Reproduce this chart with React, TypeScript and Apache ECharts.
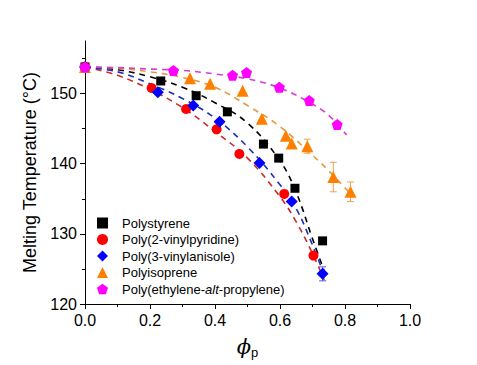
import React, { useEffect, useRef } from "react";
import * as echarts from "echarts";

// Measured points (phi_p, Tm)
const phiPS = [0, 0.233, 0.342, 0.438, 0.549, 0.596, 0.646, 0.731];
const tmPS = [153.8, 151.8, 149.7, 147.4, 142.8, 140.8, 136.5, 129.0];
const phiP2VP = [0, 0.205, 0.311, 0.405, 0.475, 0.613, 0.703];
const tmP2VP = [153.8, 150.8, 147.8, 144.9, 141.4, 135.7, 126.9];
const phiP3VA = [0, 0.224, 0.333, 0.414, 0.537, 0.636, 0.731];
const tmP3VA = [153.8, 150.2, 148.3, 146.0, 140.1, 134.6, 124.3];
const errP3VA = [0, 0, 0, 0, 0, 0, 1.0];
const phiPI = [0, 0.323, 0.385, 0.485, 0.544, 0.618, 0.636, 0.684, 0.764, 0.817];
const tmPI = [153.8, 152.2, 151.4, 150.4, 146.4, 144.0, 142.9, 142.5, 138.1, 136.0];
const errPI = [0, 0, 0, 0, 0, 0, 0, 1.0, 2.1, 1.4];
const phiPEP = [0, 0.272, 0.454, 0.497, 0.598, 0.69, 0.776];
const tmPEP = [153.8, 153.3, 152.6, 153.0, 150.9, 149.0, 145.6];

// Dashed fit curves
const fitPhiPS = [0, 0.1, 0.2, 0.3, 0.4, 0.5, 0.6, 0.65, 0.7, 0.744];
const fitTmPS = [153.8, 153.4, 152.4, 150.9, 148.7, 145.8, 140.4, 135.9, 129.3, 123.7];
const fitPhiP2VP = [0, 0.1, 0.2, 0.3, 0.4, 0.5, 0.6, 0.65, 0.7, 0.736];
const fitTmP2VP = [153.8, 152.6, 150.6, 148.0, 144.6, 140.8, 135.3, 131.7, 127.2, 123.4];
const fitPhiP3VA = [0, 0.1, 0.2, 0.3, 0.4, 0.5, 0.6, 0.65, 0.7, 0.742];
const fitTmP3VA = [153.8, 153.1, 151.4, 149.3, 146.5, 142.4, 137.0, 133.6, 128.4, 123.4];
const fitPhiPI = [0, 0.1, 0.2, 0.3, 0.4, 0.5, 0.6, 0.7, 0.75, 0.817];
const fitTmPI = [153.8, 153.6, 153.1, 152.3, 150.9, 148.3, 145.3, 141.2, 139.0, 135.7];
const fitPhiPEP = [0, 0.1, 0.2, 0.3, 0.4, 0.5, 0.6, 0.7, 0.75, 0.805];
const fitTmPEP = [153.8, 153.7, 153.5, 153.3, 152.8, 152.1, 150.8, 148.5, 146.9, 144.1];

const seriesNames = [
  "Polystyrene",
  "Poly(2-vinylpyridine)",
  "Poly(3-vinylanisole)",
  "Polyisoprene",
  "Poly(ethylene-alt-propylene)",
];
const yMajorTicks = [120, 130, 140, 150];
const yMinorTicks = [125, 135, 145, 155];

const PENTAGON =
  "path://M0,-1L0.951,-0.309L0.588,0.809L-0.588,0.809L-0.951,-0.309Z";

const zip = (a: number[], b: number[]) => a.map((v, i) => [v, b[i]]);

export default function App() {
  const ref = useRef<HTMLDivElement>(null);
  useEffect(() => {
    if (!ref.current) return;
    const chart = echarts.init(ref.current, null, { renderer: "svg" });
    const font = "Liberation Sans, Arial, sans-serif";
    const pts = [
      { x: phiPS, y: tmPS, color: "#000000", symbol: "rect", size: 9 },
      { x: phiP2VP, y: tmP2VP, color: "#ff0000", symbol: "circle", size: 10 },
      { x: phiP3VA, y: tmP3VA, color: "#0000ff", symbol: "diamond", size: 12 },
      { x: phiPI, y: tmPI, color: "#ff8000", symbol: "triangle", size: 12 },
      { x: phiPEP, y: tmPEP, color: "#ff00ff", symbol: PENTAGON, size: 11 },
    ];
    const fits = [
      { x: fitPhiPS, y: fitTmPS, color: "#000000" },
      { x: fitPhiP2VP, y: fitTmP2VP, color: "#cc2a2a" },
      { x: fitPhiP3VA, y: fitTmP3VA, color: "#1c2fb8" },
      { x: fitPhiPI, y: fitTmPI, color: "#e0993f" },
      { x: fitPhiPEP, y: fitTmPEP, color: "#d23cd2" },
    ];
    const errs = [
      { x: phiP3VA, y: tmP3VA, e: errP3VA, color: "#5060e0" },
      { x: phiPI, y: tmPI, e: errPI, color: "#f0a050" },
    ];
    const series: any[] = [];
    fits.forEach((f, i) => {
      series.push({
        name: "fit" + i,
        type: "line",
        data: zip(f.x, f.y),
        smooth: 0.4,
        showSymbol: false,
        symbol: "none",
        silent: true,
        z: 1,
        lineStyle: { color: f.color, width: 1.6, type: [6, 5] },
      });
    });
    errs.forEach((er, k) => {
      const data = er.x
        .map((x, i) => [x, er.y[i] - er.e[i], er.y[i] + er.e[i]])
        .filter((_, i) => er.e[i] > 0);
      series.push({
        name: "err" + k,
        type: "custom",
        silent: true,
        z: 2,
        data,
        renderItem: (_p: any, api: any) => {
          const lo = api.coord([api.value(0), api.value(1)]);
          const hi = api.coord([api.value(0), api.value(2)]);
          const w = 3.5;
          const st = { stroke: er.color, lineWidth: 1 };
          return {
            type: "group",
            children: [
              { type: "line", shape: { x1: lo[0], y1: lo[1], x2: hi[0], y2: hi[1] }, style: st },
              { type: "line", shape: { x1: lo[0] - w, y1: lo[1], x2: lo[0] + w, y2: lo[1] }, style: st },
              { type: "line", shape: { x1: hi[0] - w, y1: hi[1], x2: hi[0] + w, y2: hi[1] }, style: st },
            ],
          };
        },
      });
    });
    pts.forEach((p, i) => {
      series.push({
        name: seriesNames[i],
        type: "scatter",
        data: zip(p.x, p.y),
        symbol: p.symbol,
        symbolSize: p.size,
        itemStyle: { color: p.color, opacity: 1 },
        z: 3,
      });
    });
    chart.setOption({
      animation: false,
      backgroundColor: "#ffffff",
      grid: { left: 85, right: 67, top: 41, bottom: 61 },
      legend: {
        data: seriesNames,
        orient: "vertical",
        left: 97,
        top: 216,
        padding: 0,
        itemWidth: 11,
        itemHeight: 11,
        itemGap: 2.5,
        textStyle: {
          fontFamily: font,
          fontSize: 13,
          color: "#000",
          lineHeight: 14,
          padding: [0, 0, 0, 9],
          rich: { i: { fontStyle: "italic", fontSize: 13, fontFamily: font, color: "#000" } },
        },
        formatter: (n: string) =>
          n === "Poly(ethylene-alt-propylene)" ? "Poly(ethylene-{i|alt}-propylene)" : n,
      },
      xAxis: {
        type: "value",
        min: 0,
        max: 1,
        interval: 0.2,
        name: "{phi|ϕ}{sub|p}",
        nameLocation: "middle",
        nameGap: 30,
        nameTextStyle: {
          rich: {
            phi: { fontSize: 21, fontStyle: "italic", fontFamily: "DejaVu Serif, serif", color: "#000" },
            sub: { fontSize: 13, fontFamily: font, color: "#000", padding: [12, 0, 0, 0] },
          },
        },
        axisLine: { lineStyle: { color: "#000", width: 1 } },
        axisTick: { inside: false, length: 5, lineStyle: { color: "#000" } },
        minorTick: { show: true, splitNumber: 2, length: 3, lineStyle: { color: "#000" } },
        splitLine: { show: false },
        axisLabel: {
          fontFamily: font,
          fontSize: 16,
          color: "#000",
          margin: 8,
          formatter: (v: number) => v.toFixed(1),
        },
      },
      yAxis: [
        {
          type: "value",
          min: 120,
          max: 157.5,
          name: "Melting Temperature (°C)",
          nameLocation: "middle",
          nameGap: 43,
          nameTextStyle: { fontFamily: font, fontSize: 18, color: "#000" },
          axisLine: { show: true, lineStyle: { color: "#000", width: 1 } },
          axisTick: { show: true, length: 5, customValues: yMajorTicks, lineStyle: { color: "#000" } },
          axisLabel: {
            fontFamily: font,
            fontSize: 16,
            color: "#000",
            margin: 8,
            customValues: yMajorTicks,
          },
          splitLine: { show: false },
        },
        {
          type: "value",
          min: 120,
          max: 157.5,
          position: "left",
          axisLine: { show: false },
          axisTick: { show: true, length: 3, customValues: yMinorTicks, lineStyle: { color: "#000" } },
          axisLabel: { show: false, customValues: yMinorTicks },
          splitLine: { show: false },
        },
      ],
      series,
    });
    return () => chart.dispose();
  }, []);
  return (
    <div
      ref={ref}
      style={{ position: "fixed", left: 0, top: 0, width: 477, height: 365 }}
    />
  );
}
